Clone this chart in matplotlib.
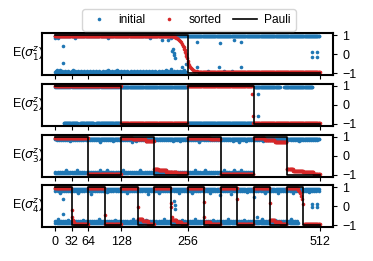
import numpy as np
import matplotlib.pyplot as plt

plt.rcParams['font.family'] = ['Liberation Sans', 'DejaVu Sans']
plt.rcParams['font.size'] = 9

BLUE = '#1f77b4'
RED = '#d62728'

xticks = [0, 32, 64, 128, 256, 512]

# ideal Pauli expectation, one value per equal-width block over 0..512
pauli1 = [1, -1]
pauli2 = [1, -1, 1, -1]
pauli3 = [1, -1, 1, -1, 1, -1, 1, -1]
pauli4 = [1, -1, 1, -1, 1, -1, 1, -1, 1, -1, 1, -1, 1, -1, 1, -1]

# --- initial order: dense runs (start, stop, step, level) + single points ---
init1_runs = [(0, 256, 2, 0.95), (1, 254, 2, -0.93), (2, 250, 6, -0.87), (256, 511, 1, 0.95)]
init1_pts = [(0, 0.85), (6, 0.87), (38, 0.87), (103, 0.86), (183, 0.87), (218, 0.75), (225, 0.86),
             (3, -0.8), (10, -0.8), (35, -0.82), (103, -0.82), (119, -0.82), (215, -0.8), (225, -0.78),
             (250, -0.8), (16, 0.42), (15, -0.43), (207, 0.75), (228, 0.3), (227, 0.17), (229, 0.05),
             (230, -0.05), (231, -0.17), (246, -0.65), (253, -0.5), (253, -0.98),
             (275, 0.64), (318, 0.57), (345, 0.75), (359, 0.64), (275, -0.68), (316, -0.64),
             (359, -0.68), (296, -0.86), (326, -0.86), (342, -0.86),
             (497, 0.1), (507, 0.1), (497, -0.12), (507, -0.12)]

init2_runs = [(0, 126, 2, 0.93), (17, 44, 1, -0.93), (49, 75, 1, -0.93), (80, 126, 1, -0.93),
              (128, 255, 1, 0.93), (256, 382, 1, -0.93), (386, 435, 1, 0.93), (443, 498, 1, 0.93)]
init2_pts = [(393, 0.54), (393, -0.6)]

init3_runs = [(0, 511, 1, 0.89), (3, 511, 4, 0.83), (0, 382, 2, -0.89), (1, 382, 4, -0.83)]
init3_pts = [(29, 0.76), (87, 0.74), (112, 0.78), (148, 0.73), (157, 0.76), (176, 0.78), (228, 0.75),
             (241, 0.78), (279, 0.74), (343, 0.78), (356, 0.72), (369, 0.77), (401, 0.76), (472, 0.78),
             (22, -0.74), (42, -0.76), (87, -0.74), (100, -0.76), (131, -0.75), (164, -0.74),
             (215, -0.76), (270, -0.74), (289, -0.76), (327, -0.74), (346, -0.76), (359, -0.75)]

init4_runs = [(0, 511, 2, 0.9), (1, 511, 4, 0.82), (1, 470, 2, -0.87), (0, 470, 4, -0.79)]
init4_pts = [(16, 0.39), (15, -0.41), (229, 0.3), (231, 0.05), (232, -0.15), (385, 0.5), (391, -0.55),
             (318, 0.6), (497, 0.1), (507, 0.1), (497, -0.05), (507, -0.05),
             (10, 0.7), (45, 0.72), (70, 0.66), (100, 0.74), (140, 0.7), (180, 0.64), (200, 0.72),
             (240, 0.68), (265, 0.7), (300, 0.72), (340, 0.66), (370, 0.74), (405, 0.7), (430, 0.72),
             (460, 0.68), (490, 0.74),
             (5, -0.68), (25, -0.7), (55, -0.72), (85, -0.68), (115, -0.7), (150, -0.66), (175, -0.72),
             (210, -0.68), (245, -0.7), (270, -0.66), (305, -0.72), (335, -0.68), (365, -0.7),
             (400, -0.68), (425, -0.72), (455, -0.68)]

# --- sorted order: runs (start, stop, level) + single points ---
sort1_runs = [(0, 200, 0.97), (200, 230, 0.95), (278, 512, -0.93)]
sort1_pts = [(230, 0.93), (232, 0.9), (234, 0.87), (236, 0.84), (238, 0.8), (240, 0.75), (242, 0.7),
             (244, 0.64), (246, 0.55), (248, 0.45), (249, 0.38), (250, 0.3), (251, 0.2), (252, 0.1),
             (253, 0.0), (254, -0.1), (255, -0.22), (256, -0.35), (257, -0.45), (258, -0.55),
             (259, -0.62), (260, -0.68), (262, -0.74), (264, -0.78), (266, -0.82), (268, -0.85),
             (271, -0.88), (275, -0.9)]

sort2_runs = [(0, 128, 0.97), (128, 256, -0.97), (256, 381, 0.97), (383, 512, -0.97)]
sort2_pts = [(381, 0.54), (382, -0.6)]

sort3_runs = [(0, 64, 0.95), (64, 128, -0.95), (128, 150, 0.95), (150, 175, 0.88), (175, 192, 0.8),
              (192, 200, -0.68), (200, 215, -0.75), (215, 235, -0.83), (235, 256, -0.92),
              (256, 300, 0.95), (300, 320, 0.88), (320, 384, -0.95),
              (384, 405, 0.93), (405, 425, 0.85), (425, 448, 0.74),
              (448, 460, -0.7), (460, 480, -0.78), (480, 500, -0.86), (500, 512, -0.93)]
sort3_pts = []

sort4_runs = [(0, 32, 0.95), (39, 64, -0.92), (64, 96, 0.95), (97, 128, -0.93),
              (128, 160, 0.95), (161, 170, -0.68), (170, 180, -0.78), (180, 192, -0.9),
              (192, 224, 0.95), (227, 235, -0.72), (235, 245, -0.82), (245, 256, -0.92),
              (256, 287, 0.95), (289, 300, -0.8), (300, 320, -0.92),
              (320, 352, 0.95), (353, 384, -0.93),
              (384, 415, 0.95), (416, 425, -0.72), (425, 436, -0.8), (436, 448, -0.9),
              (448, 470, 0.95), (481, 512, -0.93)]
sort4_pts = [(32, -0.2), (33, -0.55), (35, -0.7), (37, -0.8), (96, -0.43), (160, -0.05),
             (224, 0.2), (225, -0.05), (226, -0.55), (287, 0.25), (288, -0.57), (352, 0.4),
             (415, 0.18), (470, 0.85), (472, 0.8), (474, 0.7), (476, 0.55), (478, 0.4), (479, 0.1)]


def expand_init(runs, pts):
    xs, ys = [], []
    for x0, x1, step, lev in runs:
        xr = np.arange(x0, x1, step)
        xs.append(xr)
        ys.append(np.full(len(xr), lev))
    if pts:
        a = np.array(pts, dtype=float)
        xs.append(a[:, 0])
        ys.append(a[:, 1])
    return np.concatenate(xs), np.concatenate(ys)


def expand_sorted(runs, pts):
    return expand_init([(x0, x1, 1, lev) for x0, x1, lev in runs], pts)


rows = [
    (init1_runs, init1_pts, sort1_runs, sort1_pts, pauli1),
    (init2_runs, init2_pts, sort2_runs, sort2_pts, pauli2),
    (init3_runs, init3_pts, sort3_runs, sort3_pts, pauli3),
    (init4_runs, init4_pts, sort4_runs, sort4_pts, pauli4),
]

fig = plt.figure(figsize=(3.73, 2.61), dpi=100)
bottoms = [0.7115, 0.518, 0.3225, 0.129]
left, width, height = 0.1118, 0.7818, 0.161

handles = None
for i, (ir, ip, sr, sp, pv) in enumerate(rows):
    ax = fig.add_axes([left, bottoms[i], width, height])
    xi, yi = expand_init(ir, ip)
    xs, ys = expand_sorted(sr, sp)
    h1, = ax.plot(xi, yi, 'o', ms=2.6, mew=0, color=BLUE, label='initial')
    h2, = ax.plot(xs, ys, 'o', ms=2.6, mew=0, color=RED, label='sorted')
    edges = np.linspace(0, 512, len(pv) + 1)
    h3, = ax.step(edges, pv + [pv[-1]], where='post', color='k', lw=1.2, label='Pauli')
    if handles is None:
        handles = [h1, h2, h3]

    ax.set_xlim(-25.6, 537.6)
    ax.set_ylim(-1.1, 1.1)
    ax.set_xticks(xticks)
    if i < 3:
        ax.set_xticklabels([])
    ax.yaxis.tick_right()
    ax.set_yticks([-1, 0, 1])
    ax.tick_params(length=3, width=0.8)
    for s in ax.spines.values():
        s.set_linewidth(1.5)

    # label sits behind the axes so the white face trims it like the original
    fig.text(0.1166, bottoms[i] + height / 2, r'E($\sigma^z_{%d}$)' % (i + 1),
             ha='right', va='center', zorder=-1, fontsize=9)

fig.legend(handles, ['initial', 'sorted', 'Pauli'], loc='upper center',
           bbox_to_anchor=(0.507, 0.965), ncol=3, handlelength=2.0, fontsize=8.6,
           handletextpad=0.6, columnspacing=1.0, borderaxespad=0)

fig.savefig('out.png', dpi=100)
